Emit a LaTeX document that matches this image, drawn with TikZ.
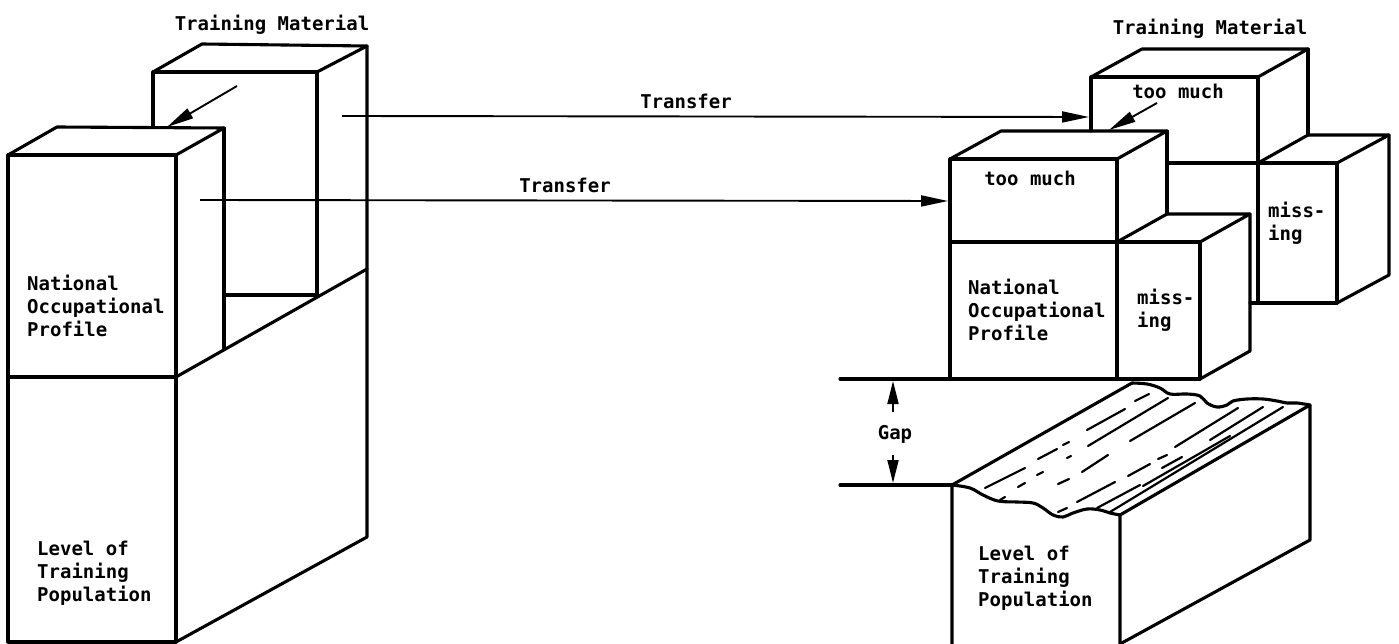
\documentclass[tikz,border=0pt]{standalone}
\usepackage{fontspec}
\setmonofont{DejaVu Sans Mono}
\usetikzlibrary{arrows.meta}
\begin{document}
\begin{tikzpicture}[x=1pt,y=-1pt,
  edge/.style={line width=3.1pt, line join=round, line cap=round},
  lbl/.style={font=\ttfamily\bfseries\fontsize{19}{23}\selectfont, inner sep=0pt, align=left},
  arr/.style={line width=1.9pt, -{Triangle[length=27pt,width=11pt]}},
  gaparr/.style={line width=1.9pt, -{Triangle[length=23pt,width=11pt]}},
  hatch/.style={line width=2.2pt, line cap=round}]
\useasboundingbox[fill=white] (0,0) rectangle (1399,644);

% ---------------- left structure ----------------
\draw[edge] (8,155) -- (176,155) -- (176,642) -- (8,642) -- cycle;
\draw[edge] (8,377) -- (176,377);
\draw[edge] (8,155) -- (57,127) -- (224,128) -- (176,155);
\draw[edge] (224,128) -- (224,348);
\draw[edge] (176,377) -- (367,269);
\draw[edge] (176,642) -- (367,537) -- (367,46);
\draw[edge] (153,127) -- (153,72) -- (317,72) -- (317,295) -- (224,295);
\draw[edge] (153,72) -- (202,44) -- (367,46) -- (317,72);

\coordinate (la1) at (237,86);
\coordinate (la2) at (167,127);
\draw[arr] (la1) -- (la2);

\node[lbl] (ltm) at (272,25) {Training Material};
\node[lbl, anchor=west] (lnop) at (27,306) {National\\Occupational\\Profile};
\node[lbl, anchor=west] (llev) at (37,573) {Level of\\Training\\Population};

% ---------------- transfer arrows ----------------
\coordinate (t1s) at (342,116);
\coordinate (t1e) at (1089,117);
\coordinate (t2s) at (200,200);
\coordinate (t2e) at (948,201);
\draw[arr] (t1s) -- (t1e);
\draw[arr] (t2s) -- (t2e);
\node[lbl] (tr1) at (686,101) {Transfer};
\node[lbl] (tr2) at (565,185) {Transfer};

% ---------------- right structure ----------------
% rear box (training material)
\draw[edge] (1091,131) -- (1091,77) -- (1258,77) -- (1258,303);
\draw[edge] (1091,77) -- (1142,49) -- (1308,49) -- (1258,77);
\draw[edge] (1308,49) -- (1308,135);
\draw[edge] (1167,163) -- (1258,163);
% rear missing box
\draw[edge] (1258,163) -- (1337,163) -- (1337,303) -- (1250,303);
\draw[edge] (1258,163) -- (1308,135) -- (1389,135) -- (1337,163);
\draw[edge] (1389,135) -- (1389,275) -- (1337,303);
% front box
\draw[edge] (950,159) -- (1117,159) -- (1117,379) -- (950,379) -- cycle;
\draw[edge] (950,242) -- (1117,242);
\draw[edge] (950,159) -- (1001,131) -- (1167,131) -- (1117,159);
\draw[edge] (1167,131) -- (1167,214);
% front missing box
\draw[edge] (1117,242) -- (1200,242) -- (1200,379);
\draw[edge] (1117,242) -- (1167,214) -- (1250,214) -- (1200,242);
\draw[edge] (1250,214) -- (1250,351) -- (1200,379);
% gap lines
\draw[edge] (840,379) -- (1200,379);
\draw[edge] (840,485) -- (952,485);

\coordinate (g1s) at (893,412);
\coordinate (g1e) at (893,381);
\coordinate (g2s) at (893,455);
\coordinate (g2e) at (893,483);
\draw[gaparr] (g1s) -- (g1e);
\draw[gaparr] (g2s) -- (g2e);
\node[lbl] (gap) at (895,434) {Gap};

% too much arrow
\coordinate (ta1) at (1157,103);
\coordinate (ta2) at (1109,130);
\draw[arr] (ta1) -- (ta2);

% bottom block (level of training population)
\draw[edge] (952,646) -- (952,485) -- (1132,383);
\draw[edge] plot[smooth, tension=0.6] coordinates {(952,485) (970,488) (983,495) (998,501) (1017,502) (1033,503) (1043,508) (1053,515) (1063,517) (1073,513) (1087,509) (1100,510) (1110,513) (1120,515)};
\draw[edge] plot[smooth, tension=0.6] coordinates {(1132,383) (1147,384) (1160,388) (1170,394) (1187,394) (1200,396) (1207,403) (1217,407) (1227,405) (1233,401) (1247,399) (1263,399) (1277,401) (1287,403) (1297,403) (1310,405)};
\draw[edge] (1120,646) -- (1120,515) -- (1310,405) -- (1310,540) -- (1120,644);

% hatching on the broken top face
\draw[hatch] (985,488) -- (1025,468);
\draw[hatch] (1018,487) -- (1025,483);
\draw[hatch] (1037,475) -- (1043,472);
\draw[hatch] (1058,484) -- (1069,479);
\draw[hatch] (1038,459) -- (1057,449);
\draw[hatch] (1063,445) -- (1069,442);
\draw[hatch] (1067,458) -- (1071,456);
\draw[hatch] (1087,430) -- (1125,409);
\draw[hatch] (1135,401) -- (1149,394);
\draw[hatch] (1088,446) -- (1168,398);
\draw[hatch] (1082,472) -- (1108,455);
\draw[hatch] (1130,441) -- (1195,403);
\draw[hatch] (1077,502) -- (1115,482);
\draw[hatch] (1097,508) -- (1140,485);
\draw[hatch] (1110,512) -- (1283,407);
\draw[hatch] (1058,512) -- (1067,508);
\draw[hatch] (1175,447) -- (1238,408);
\draw[hatch] (1210,440) -- (1263,407);
\draw[hatch] (1128,476) -- (1150,464);
\draw[hatch] (1158,459) -- (1167,455);
\draw[hatch] (1162,468) -- (1182,457);
\draw[hatch] (1143,486) -- (1230,436);
\draw[hatch] (1000,500) -- (1005,497);

% right labels
\node[lbl] (rtm) at (1210,29) {Training Material};
\node[lbl] (rtm2) at (1178,91) {too much};
\node[lbl] (rtm1) at (1030,178) {too much};
\node[lbl, anchor=west] (rnop) at (968,310) {National\\Occupational\\Profile};
\node[lbl, anchor=west] (rmis1) at (1137,310) {miss-\\ing};
\node[lbl, anchor=west] (rmis2) at (1268,223) {miss-\\ing};
\node[lbl, anchor=west] (rlev) at (978,578) {Level of\\Training\\Population};
\end{tikzpicture}
\end{document}
